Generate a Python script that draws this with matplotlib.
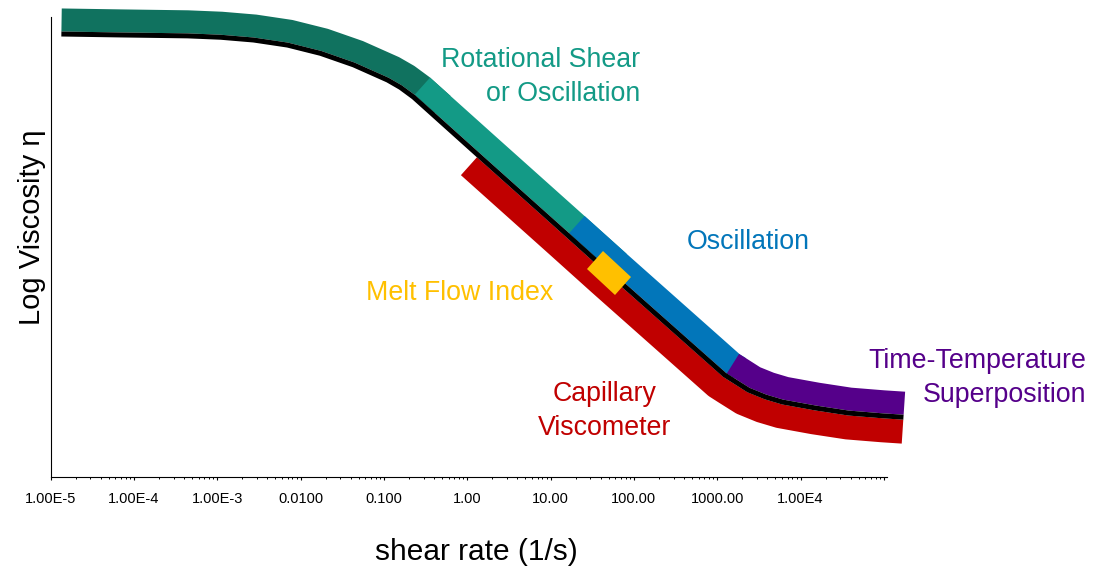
"""Schematic flow curve: which rheometer technique covers which shear-rate range."""

import matplotlib

matplotlib.use("Agg")

import matplotlib.pyplot as plt
import numpy as np
from matplotlib.markers import MarkerStyle
from matplotlib.ticker import FixedFormatter, FixedLocator, LogLocator, NullFormatter
from matplotlib.transforms import Affine2D

plt.rcParams["font.family"] = ["Liberation Sans", "DejaVu Sans"]

# master flow curve (shear rate in 1/s, log viscosity in arbitrary units)
shear_rate = [1.35e-5, 6.9e-5, 4.4e-4, 1.10e-3, 2.73e-3, 6.98e-3, 0.0174, 0.0433,
              0.111, 0.158, 0.227, 0.394, 1.37, 16.0, 51.0, 1225.0, 1528.0, 2377.0,
              3800.0, 6080.0, 15100.0, 37700.0, 96400.0, 172000.0]
log_eta = [9.63, 9.61, 9.59, 9.56, 9.50, 9.39, 9.21, 8.96,
           8.63, 8.47, 8.26, 7.87, 6.99, 5.26, 4.44, 2.22, 2.11, 1.89,
           1.74, 1.63, 1.50, 1.39, 1.33, 1.30]

# shear-rate window covered by each technique
technique = ["Rotational plateau", "Rotational Shear or Oscillation", "Oscillation",
             "Time-Temperature Superposition", "Capillary Viscometer"]
range_lo = [1.35e-5, 0.227, 16.0, 1225.0, 1.37]
range_hi = [0.227, 16.0, 1225.0, 172000.0, 172000.0]

# melt flow index is a single point on the curve
mfi_rate = [51.0]
mfi_eta = [4.44]

major_ticks = [1e-5, 1e-4, 1e-3, 1e-2, 1e-1, 1, 10, 100, 1000, 1e4, 1e5]
major_labels = ["1.00E-5", "1.00E-4", "1.00E-3", "0.0100", "0.100", "1.00",
                "10.00", "100.00", "1000.00", "1.00E4", ""]

band_color = ["#10725F", "#139A86", "#0276BA", "#55008A", "#C00000"]
band_side = [1, 1, 1, 1, -1]

W, H = 1096, 567


def shifted(ax, x, y, shift_pt):
    """Offset a curve sideways by shift_pt points (positive = above)."""
    xy = ax.transData.transform(np.column_stack([x, y]))
    seg = np.diff(xy, axis=0)
    seg /= np.hypot(seg[:, 0], seg[:, 1])[:, None]
    tang = np.vstack([seg[:1], seg[:-1] + seg[1:], seg[-1:]])
    tang /= np.hypot(tang[:, 0], tang[:, 1])[:, None]
    normal = np.column_stack([-tang[:, 1], tang[:, 0]])
    xy = xy + normal * shift_pt * ax.figure.dpi / 72
    out = ax.transData.inverted().transform(xy)
    return out[:, 0], out[:, 1]


fig = plt.figure(figsize=(W / 100, H / 100), dpi=100)
ax = fig.add_axes([50.5 / W, (H - 477) / H, 836 / W, 460 / H])
ax.set_xscale("log")
ax.set_xlim(1e-5, 10 ** 5.032)
ax.set_ylim(0, 10)

rate = np.array(shear_rate)
upper_x, upper_y = shifted(ax, shear_rate, log_eta, 10.1)
lower_x, lower_y = shifted(ax, shear_rate, log_eta, -10.4)

for lo, hi, side, color in zip(range_lo, range_hi, band_side, band_color):
    idx = np.flatnonzero((rate >= lo) & (rate <= hi))
    # run one knot into the next band so the join is filled; the next band covers it
    if idx[-1] + 1 < len(rate):
        idx = np.append(idx, idx[-1] + 1)
    bx, by = (upper_x, upper_y) if side > 0 else (lower_x, lower_y)
    ax.plot(bx[idx], by[idx], color=color, lw=16.6 if side > 0 else 17.3,
            solid_capstyle="butt", solid_joinstyle="round", clip_on=False,
            zorder=2 if side > 0 else 1)

ax.plot(shear_rate, log_eta, color="black", lw=3.6, solid_capstyle="butt",
        solid_joinstyle="round", clip_on=False, zorder=3)

mfi_marker = MarkerStyle("s", transform=Affine2D().scale(1.0, 24 / 38).rotate_deg(-42))
ax.plot(mfi_rate, mfi_eta, ls="none", marker=mfi_marker, ms=27.4, mew=0,
        color="#FFC000", clip_on=False, zorder=4)

ax.spines[["top", "right"]].set_visible(False)
ax.spines[["left", "bottom"]].set_linewidth(0.8)
ax.xaxis.set_major_locator(FixedLocator(major_ticks))
ax.xaxis.set_major_formatter(FixedFormatter(major_labels))
ax.xaxis.set_minor_locator(LogLocator(base=10, subs=np.arange(2, 10), numticks=20))
ax.xaxis.set_minor_formatter(NullFormatter())
ax.tick_params(axis="x", which="major", direction="out", length=2.5, width=0.8,
               labelsize=10.5, pad=8)
ax.tick_params(axis="x", which="minor", direction="out", length=1.3, width=0.7)
ax.set_yticks([])

fig.text(476 / W, 1 - 552 / H, "shear rate (1/s)", fontsize=21.5, ha="center", va="center")
fig.text(32 / W, 1 - 227 / H, "Log Viscosity η", fontsize=21, rotation=90,
         ha="center", va="center")

fs = 19.3
fig.text(640 / W, 1 - 77 / H, "Rotational Shear\nor Oscillation", color="#139A86",
         fontsize=fs, ha="right", va="center", multialignment="right", linespacing=1.42)
fig.text(748 / W, 1 - 242 / H, "Oscillation", color="#0276BA", fontsize=fs,
         ha="center", va="center")
fig.text(460 / W, 1 - 293 / H, "Melt Flow Index", color="#FFC000", fontsize=fs,
         ha="center", va="center")
fig.text(605 / W, 1 - 411 / H, "Capillary\nViscometer", color="#C00000", fontsize=fs,
         ha="center", va="center", multialignment="center", linespacing=1.42)
fig.text(1086 / W, 1 - 378 / H, "Time-Temperature\nSuperposition", color="#55008A",
         fontsize=fs, ha="right", va="center", multialignment="right", linespacing=1.35)

fig.savefig("out.png", dpi=100)
plt.close(fig)
